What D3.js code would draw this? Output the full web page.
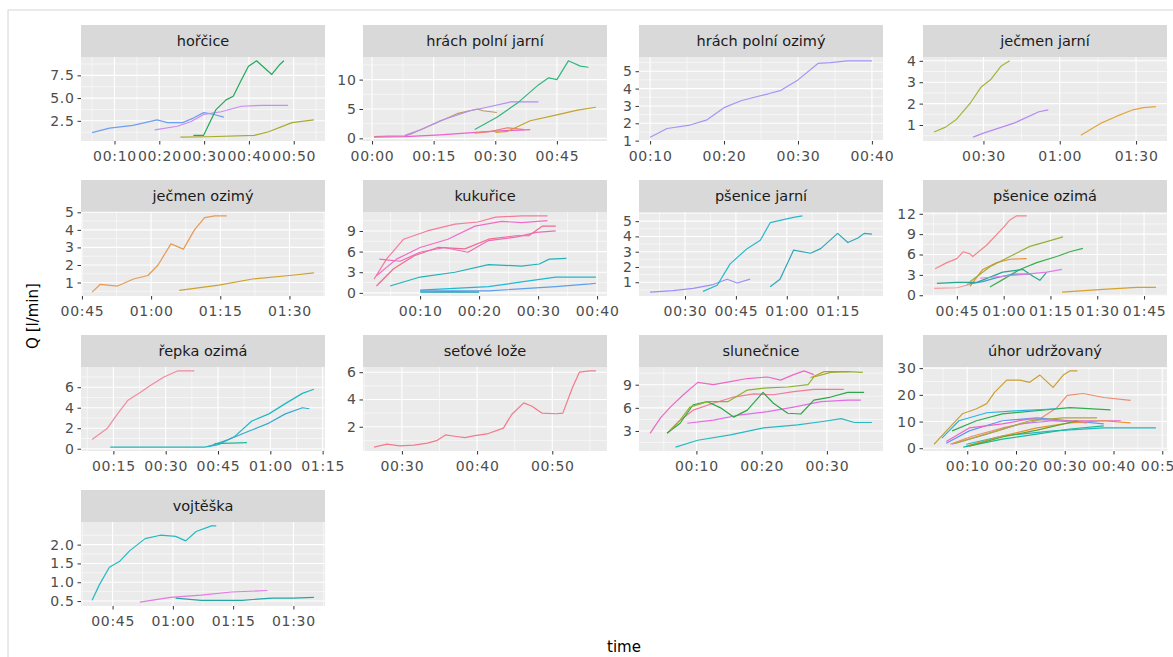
<!DOCTYPE html>
<html>
<head>
<meta charset="utf-8">
<script src="https://cdn.jsdelivr.net/npm/d3@7"></script>
<style>
  body { margin: 0; background: #fff; }
  text { font-family: "DejaVu Sans", sans-serif; }
</style>
</head>
<body>
<script>
// facets, in facet_wrap order
var crops = [
  'hořčice', 'hrách polní jarní', 'hrách polní ozimý', 'ječmen jarní',
  'ječmen ozimý', 'kukuřice', 'pšenice jarní', 'pšenice ozimá',
  'řepka ozimá', 'seťové lože', 'slunečnice', 'úhor udržovaný',
  'vojtěška'
];

// tick values, time in minutes
var xTicks = [
  [10, 20, 30, 40, 50], [0, 15, 30, 45], [10, 20, 30, 40], [30, 60, 90],
  [45, 60, 75, 90], [10, 20, 30, 40], [30, 45, 60, 75], [45, 60, 75, 90, 105],
  [15, 30, 45, 60, 75], [30, 40, 50], [10, 20, 30], [10, 20, 30, 40, 50],
  [45, 60, 75, 90]
];
var yTicks = [
  [2.5, 5, 7.5], [0, 5, 10], [1, 2, 3, 4, 5], [1, 2, 3, 4],
  [1, 2, 3, 4, 5], [0, 3, 6, 9], [1, 2, 3, 4, 5], [0, 3, 6, 9, 12],
  [0, 2, 4, 6], [2, 4, 6], [3, 6, 9], [0, 10, 20, 30],
  [0.5, 1, 1.5, 2]
];

// [time (min), Q (l/min)] per measurement
var horcice = [
  {id: 'p01', pts: [[5.0,1.2],[8.9,1.7],[14.1,2.0],[19.5,2.6],[21.8,2.3],[25.2,2.3],[27.6,2.8],[29.9,3.4],[32.2,3.2],[34.4,2.9]]},
  {id: 'p02', pts: [[19.0,1.5],[24.0,1.9],[27.0,2.4],[29.9,3.2],[33.8,3.5],[38.3,4.1],[42.8,4.2],[48.7,4.2]]},
  {id: 'p03', pts: [[27.6,0.9],[29.9,0.9],[32.6,3.7],[34.9,4.8],[36.5,5.2],[38.3,7.0],[39.9,8.5],[41.7,9.1],[43.3,8.4],[45.1,7.6],[46.9,8.7],[47.8,9.1]]},
  {id: 'p04', pts: [[24.7,0.7],[30.8,0.75],[41.2,0.9],[44.4,1.3],[49.6,2.3],[54.5,2.6]]}
];
var hrachJarni = [
  {id: 'p05', pts: [[0.5,0.3],[4,0.4],[8,0.4],[10,0.9],[14.9,2.4],[20.7,4.2],[25.6,5.0],[27,4.7],[30.4,4.4]]},
  {id: 'p06', pts: [[8,0.5],[12,1.5],[16.6,3.0],[23.9,4.7],[28,5.3],[33.7,6.2],[40.5,6.2]]},
  {id: 'p07', pts: [[0.5,0.2],[8,0.3],[16.6,0.6],[28.8,1.2],[38.5,1.5]]},
  {id: 'p08', pts: [[25,0.9],[29,1.2],[33,1.8],[37,1.5]]},
  {id: 'p09', pts: [[25,1.5],[30.4,3.6],[35.4,6.0],[40.5,9.1],[43,10.3],[45,10.0],[47.8,13.2],[50.7,12.3],[52.7,12.1]]},
  {id: 'p10', pts: [[30,1.0],[33,1.2],[38.5,3.0],[45,4.0],[50,4.8],[54.5,5.3]]}
];
var hrachOzimy = [
  {id: 'p11', pts: [[10,1.2],[12.3,1.7],[15.4,1.9],[17.7,2.2],[20,2.9],[22.3,3.3],[24.1,3.5],[26,3.7],[27.7,3.9],[30,4.5],[32.7,5.45],[34.4,5.5],[36.7,5.6],[40,5.6]]}
];
var jecmenJarni = [
  {id: 'p12', pts: [[10.6,0.67],[15.1,0.9],[19.2,1.24],[25,2.05],[29,2.76],[33,3.14],[37,3.76],[40.3,4.0]]},
  {id: 'p13', pts: [[25.9,0.43],[30,0.62],[42.3,1.1],[51.8,1.62],[55.5,1.71]]},
  {id: 'p14', pts: [[68.3,0.52],[76.5,1.1],[82.2,1.4],[88.8,1.71],[92.9,1.81],[97.8,1.86]]}
];
var jecmenOzimy = [
  {id: 'p15', pts: [[47.2,0.45],[49,0.9],[52.7,0.8],[56.2,1.2],[59.3,1.4],[61.5,2.0],[64.3,3.2],[67,2.9],[69.4,4.0],[71.6,4.7],[73.8,4.8],[76.4,4.8]]},
  {id: 'p16', pts: [[66.1,0.55],[74.7,0.85],[82,1.2],[90,1.4],[95.3,1.55]]}
];
var kukurice = [
  {id: 'p17', pts: [[2.2,2.0],[4.3,4.9],[7.2,7.8],[11.2,9.0],[15.9,10.0],[19.8,10.3],[22.8,11.0],[27.2,11.2],[31.6,11.2]]},
  {id: 'p18', pts: [[2.6,2.5],[6,4.9],[10,6.6],[14.7,7.8],[19.3,9.7],[23.8,10.4],[27.2,10.2],[31.6,10.5]]},
  {id: 'p19', pts: [[2.6,1.0],[5.5,3.5],[9,5.4],[13,6.6],[17.6,6.4],[21.6,7.8],[26.2,8.3],[28.4,8.3],[30.7,9.7],[33,9.7]]},
  {id: 'p20', pts: [[3.1,4.9],[6.6,4.6],[10,5.9],[14.1,6.6],[18.1,5.9],[21.6,7.6],[26.2,8.1],[29.7,8.8],[33,9.0]]},
  {id: 'p21', pts: [[4.9,1.0],[10,2.3],[15.9,3.0],[21.6,4.1],[27.2,3.9],[30.2,4.2],[31.9,4.9],[34.8,5.0]]},
  {id: 'p22', pts: [[10,0.4],[21.6,0.9],[27.2,1.6],[33,2.3],[39.8,2.3]]},
  {id: 'p23', pts: [[10,0.3],[21.6,0.3],[33,0.9],[38.8,1.3],[39.8,1.4]]},
  {id: 'p24', pts: [[10,0.1],[15,0.15],[20,0.1]]}
];
var psJarni = [
  {id: 'p25', pts: [[19.7,0.35],[26.4,0.45],[32.4,0.6],[38.3,0.85],[42.4,1.2],[45.4,0.95],[49.2,1.2]]},
  {id: 'p26', pts: [[35.3,0.4],[39.5,0.8],[43.3,2.2],[48.3,3.2],[52.2,3.75],[55.1,4.9],[59,5.1],[62,5.25],[64.6,5.35]]},
  {id: 'p27', pts: [[55.1,0.7],[58,1.2],[62,3.1],[67,2.9],[70,3.2],[75,4.2],[78,3.6],[81,3.9],[82.8,4.2],[85.1,4.15]]}
];
var psOzima = [
  {id: 'p28', pts: [[38,3.9],[41.8,4.8],[45,5.4],[47,6.4],[49.2,6.1],[50.1,5.7],[54.6,7.4],[59.7,9.9],[62,11.1],[64.2,11.7],[67.4,11.7]]},
  {id: 'p29', pts: [[49.2,1.3],[53.3,3.8],[57.8,4.8],[62,5.3],[67.4,5.4]]},
  {id: 'p30', pts: [[49.2,2.0],[55.6,4.2],[62,5.7],[68.4,7.2],[73.8,7.9],[79,8.6]]},
  {id: 'p31', pts: [[55.6,1.2],[59.7,2.3],[65.2,3.8],[70.6,4.8],[77,5.7],[81.2,6.4],[85.4,6.9]]},
  {id: 'p32', pts: [[38.6,1.75],[45,1.9],[51.4,1.9],[59.7,3.4],[66.2,3.8],[69.4,2.8],[71.6,2.2],[73.8,3.4]]},
  {id: 'p33', pts: [[48.2,1.6],[53.3,2.0],[57.8,2.6],[63,3.1],[68.4,3.1]]},
  {id: 'p34', pts: [[52.4,2.5],[59.7,2.8],[67.4,3.1],[73.8,3.4],[78.7,3.8]]},
  {id: 'p35', pts: [[37.7,1.0],[45,1.1],[49.2,1.6]]},
  {id: 'p36', pts: [[78.7,0.45],[91.8,0.85],[102.7,1.15],[108.8,1.15]]}
];
var repka = [
  {id: 'p37', pts: [[8.9,0.9],[13.3,2.0],[16.2,3.4],[19.1,4.7],[22.8,5.5],[25.7,6.2],[29.5,7.0],[33.5,7.6],[38.2,7.6]]},
  {id: 'p38', pts: [[14.1,0.15],[41.1,0.15],[45.1,0.4],[49.8,1.2],[54.7,2.7],[59.6,3.4],[64.3,4.4],[69.2,5.4],[72.5,5.8]]},
  {id: 'p39', pts: [[42.2,0.2],[48,0.9],[53.8,1.7],[59.6,2.5],[64.3,3.4],[69.2,4.0],[71.2,3.9]]},
  {id: 'p40', pts: [[44,0.5],[53.3,0.6]]}
];
var setoveLoze = [
  {id: 'p41', pts: [[26.3,0.5],[28,0.73],[29.7,0.6],[31.6,0.65],[33.4,0.8],[34.7,1.0],[35.8,1.4],[37,1.3],[38.4,1.2],[39.7,1.35],[41.5,1.5],[43.5,1.9],[44.6,2.9],[46.2,3.75],[47.3,3.5],[48.6,3.0],[50.5,2.95],[51.4,3.0],[52.7,4.9],[53.6,6.0],[55,6.1],[55.8,6.1]]}
];
var slunecnice = [
  {id: 'p42', pts: [[2.9,2.7],[4.5,4.7],[6,6.1],[8,7.7],[10.2,9.3],[12.6,9.0],[15.2,9.4],[17.8,9.8],[20.9,10.0],[22.9,9.6],[24.9,10.3],[26.5,10.8],[28,10.3]]},
  {id: 'p43', pts: [[5.5,2.7],[7.5,4.4],[9.5,5.7],[12.6,6.6],[15.7,7.4],[18.8,7.8],[21.8,7.7],[24.9,8.1],[28,8.4],[32.6,8.4]]},
  {id: 'p44', pts: [[8.6,4.0],[12.6,4.4],[16.8,5.1],[20.9,5.5],[24.9,6.1],[29.1,6.8],[33.2,7.0],[35.2,7.0]]},
  {id: 'p45', pts: [[5.5,2.7],[7.5,4.0],[9.5,6.4],[11.7,6.8],[13.7,6.0],[15.7,4.8],[17.8,5.7],[20.2,8.0],[21.8,6.6],[24,5.3],[26,5.2],[28,7.0],[30.6,7.4],[33.2,8.0],[35.7,8.0]]},
  {id: 'p46', pts: [[6,3.1],[7.5,4.4],[9,6.1],[11.7,6.8],[14.8,6.8],[17.8,8.3],[20.9,8.6],[24,8.7],[27.1,9.0],[28,10.0],[30.6,10.6],[33.2,10.7],[35.5,10.6]]},
  {id: 'p47', pts: [[27.5,9.9],[29.6,10.7],[33.2,10.7]]},
  {id: 'p48', pts: [[6.8,0.9],[10.2,1.8],[15.2,2.5],[20.3,3.4],[25.5,3.8],[29.1,4.2],[32.2,4.6],[34.2,4.1],[36.9,4.1]]}
];
var uhor = [
  {id: 'p49', pts: [[3.2,1.5],[6.3,7.6],[9,12.9],[11.9,14.8],[14,16.7],[15.6,20.9],[18.1,25.5],[20.8,25.5],[22.8,24.7],[24.9,27.4],[27.6,22.8],[29.7,27.4],[31.1,29.0],[32.6,29.0]]},
  {id: 'p50', pts: [[6.5,1.5],[11,4.5],[17.2,7.6],[24.3,10.3],[28.4,15.2],[30.5,19.8],[33.8,20.5],[38,19.0],[43.5,17.9]]},
  {id: 'p51', pts: [[6.9,6.5],[11.9,10.3],[17.2,12.9],[24.3,14.1],[31.1,15.2],[39.4,14.4]]},
  {id: 'p52', pts: [[4.8,3.8],[8.3,10.3],[14,13.3],[20.8,14.1],[28.4,14.8]]},
  {id: 'p53', pts: [[5.7,1.9],[10.4,6.5],[17.2,10.3],[24.3,11.4],[31.1,10.3],[38,9.1]]},
  {id: 'p54', pts: [[9.8,1.5],[17.2,4.6],[27.6,6.5],[38,7.6],[48.7,7.6]]},
  {id: 'p55', pts: [[5.7,2.5],[10.4,7.6],[17.2,9.1],[22.8,11.0],[28.4,10.3],[34.6,10.3],[41.5,10.3]]},
  {id: 'p56', pts: [[6.9,1.5],[14,5.3],[20.8,9.1],[27.6,10.3],[34.6,9.5]]},
  {id: 'p57', pts: [[9.8,0.8],[17.2,4.6],[24.3,7.6],[31.1,9.5],[38,10.3],[43.5,9.5]]},
  {id: 'p58', pts: [[9.2,0.4],[17.2,3.4],[24.3,5.3],[31.1,7.2],[38,8.4]]},
  {id: 'p59', pts: [[10.4,0.8],[17.2,4.2],[24.3,6.8],[32.6,10.3]]},
  {id: 'p60', pts: [[7.6,1.9],[16,6.5],[22.8,10.3],[29.7,11.4],[36.6,11.4]]}
];
var vojteska = [
  {id: 'p61', pts: [[39.9,0.52],[41.7,0.93],[44.2,1.4],[46.8,1.56],[49.3,1.84],[53.1,2.16],[56.9,2.25],[60.7,2.22],[63.2,2.1],[65.8,2.35],[69.6,2.5],[70.8,2.5]]},
  {id: 'p62', pts: [[51.8,0.47],[59.4,0.6],[67,0.66],[74.6,0.74],[83.5,0.78]]},
  {id: 'p63', pts: [[60.7,0.58],[67,0.52],[77.2,0.52],[84.7,0.58],[89.8,0.58],[95.1,0.6]]}
];

var panels = [horcice, hrachJarni, hrachOzimy, jecmenJarni, jecmenOzimy, kukurice,
  psJarni, psOzima, repka, setoveLoze, slunecnice, uhor, vojteska];

// colour per measurement id
var plotIds = d3.range(1, 64).map(function(i) { return 'p' + (i < 10 ? '0' : '') + i; });
var plotColours = [
  '#6E9FF0', '#C98BF5', '#22A85A', '#A8AA2A',
  '#B99A5E', '#B58CF5', '#F060D0', '#F07A70', '#2EB87E', '#C2A32A',
  '#A793F7',
  '#A6B33A', '#B688F3', '#E5A43A',
  '#E69A52', '#CDA22C',
  '#F47C9C', '#F36CC8', '#F06B8E', '#EE6AB8', '#22B2B8', '#1FB9D2', '#5D9FE8', '#1A9FB0',
  '#9F8DF7', '#27B8CC', '#2FA6B8',
  '#F4858A', '#E98F3A', '#93B03A', '#3BAF4B', '#25A88E', '#3E9CC8', '#DF7CE8', '#F2A0A0', '#D4A22A',
  '#F08CA0', '#1FB8C0', '#34A9CF', '#1BB99A',
  '#F27A8A',
  '#F067C6', '#F4799A', '#E56BE8', '#2EA648', '#8DB32C', '#C9962E', '#26BAC0',
  '#C9A030', '#F08A6E', '#2FAE4C', '#2BB3E6', '#5E96F0', '#20B8C2', '#F064C8', '#B682F2', '#E9902F', '#1DB993', '#57A82C', '#A9AC2E',
  '#22BAC0', '#E27AE4', '#20A8A2'
];
var colour = d3.scaleOrdinal().domain(plotIds).range(plotColours);

var width = 1173;
var height = 657;
var colLeft = [81, 363, 639, 923];
var panelW = 244;
var rowTop = 25;
var rowStep = 155;
var stripH = 32;
var panelH = 84;

function fmtTime(m) {
  var h = Math.floor(m / 60);
  var mm = Math.round(m - h * 60);
  return (h < 10 ? '0' : '') + h + ':' + (mm < 10 ? '0' : '') + mm;
}

function expand(ext) {
  var pad = (ext[1] - ext[0]) * 0.05;
  return [ext[0] - pad, ext[1] + pad];
}

function minorBreaks(ticks, dom) {
  var step = ticks[1] - ticks[0];
  var out = [];
  for (var v = ticks[0] - step / 2; v <= dom[1]; v += step) {
    if (v >= dom[0]) out.push(v);
  }
  return out;
}

var svg = d3.select('body').append('svg')
  .attr('width', width)
  .attr('height', height);

svg.append('path')
  .attr('d', 'M8,' + height + 'V10H' + width)
  .attr('fill', 'none')
  .attr('stroke', '#d4d4d4');

panels.forEach(function(series, i) {
  var col = i % 4;
  var row = Math.floor(i / 4);
  var left = colLeft[col];
  var top = rowTop + row * rowStep + stripH;
  var bottom = top + panelH;

  var allPts = d3.merge(series.map(function(s) { return s.pts; }));
  var xDom = expand(d3.extent(allPts, function(p) { return p[0]; }));
  var yDom = expand(d3.extent(allPts, function(p) { return p[1]; }));

  var x = d3.scaleLinear().domain(xDom).range([left, left + panelW]);
  var y = d3.scaleLinear().domain(yDom).range([bottom, top]);

  var g = svg.append('g').attr('class', 'panel');

  // strip
  g.append('rect')
    .attr('x', left).attr('y', top - stripH)
    .attr('width', panelW).attr('height', stripH)
    .attr('fill', '#d9d9d9');
  g.append('text')
    .attr('x', left + panelW / 2).attr('y', top - stripH / 2 + 5)
    .attr('text-anchor', 'middle')
    .attr('font-size', 14.5)
    .attr('fill', '#1a1a1a')
    .text(crops[i]);

  g.append('rect')
    .attr('x', left).attr('y', top)
    .attr('width', panelW).attr('height', panelH)
    .attr('fill', '#ebebeb');

  var xt = xTicks[i];
  var yt = yTicks[i];
  var xIn = xt.filter(function(v) { return v >= xDom[0] && v <= xDom[1]; });
  var yIn = yt.filter(function(v) { return v >= yDom[0] && v <= yDom[1]; });

  // grid
  g.selectAll('.xminor').data(minorBreaks(xt, xDom)).enter().append('line')
    .attr('x1', x).attr('x2', x).attr('y1', top).attr('y2', bottom)
    .attr('stroke', '#fff').attr('stroke-width', 0.55);
  g.selectAll('.yminor').data(minorBreaks(yt, yDom)).enter().append('line')
    .attr('y1', y).attr('y2', y).attr('x1', left).attr('x2', left + panelW)
    .attr('stroke', '#fff').attr('stroke-width', 0.55);
  g.selectAll('.xmajor').data(xIn).enter().append('line')
    .attr('x1', x).attr('x2', x).attr('y1', top).attr('y2', bottom)
    .attr('stroke', '#fff').attr('stroke-width', 1.1);
  g.selectAll('.ymajor').data(yIn).enter().append('line')
    .attr('y1', y).attr('y2', y).attr('x1', left).attr('x2', left + panelW)
    .attr('stroke', '#fff').attr('stroke-width', 1.1);

  // lines
  var line = d3.line()
    .x(function(p) { return x(p[0]); })
    .y(function(p) { return y(p[1]); });
  g.selectAll('.series').data(series).enter().append('path')
    .attr('d', function(s) { return line(s.pts); })
    .attr('fill', 'none')
    .attr('stroke', function(s) { return colour(s.id); })
    .attr('stroke-width', 1.2)
    .attr('stroke-linejoin', 'round');

  // axes
  var decimals = yt.some(function(v) { return v % 1 !== 0; });
  var xAxis = d3.axisBottom(x)
    .tickValues(xIn)
    .tickSize(3.5).tickPadding(7)
    .tickFormat(fmtTime);
  var yAxis = d3.axisLeft(y)
    .tickValues(yIn)
    .tickSize(3.5).tickPadding(3)
    .tickFormat(d3.format(decimals ? '.1f' : 'd'));

  [g.append('g').attr('transform', 'translate(0,' + bottom + ')').call(xAxis),
   g.append('g').attr('transform', 'translate(' + left + ',0)').call(yAxis)]
    .forEach(function(ax) {
      ax.select('.domain').remove();
      ax.selectAll('line').attr('stroke', '#333');
      ax.selectAll('text')
        .attr('fill', '#4d4d4d')
        .attr('font-size', 14)
        .attr('font-family', '"DejaVu Sans", sans-serif')
        .style('letter-spacing', '0.7px');
    });
});

// axis titles
svg.append('text')
  .attr('transform', 'translate(38,316) rotate(-90)')
  .attr('text-anchor', 'middle')
  .attr('font-size', 15)
  .text('Q [l/min]');
svg.append('text')
  .attr('x', 624).attr('y', 652)
  .attr('text-anchor', 'middle')
  .attr('font-size', 15)
  .text('time');
</script>
</body>
</html>
